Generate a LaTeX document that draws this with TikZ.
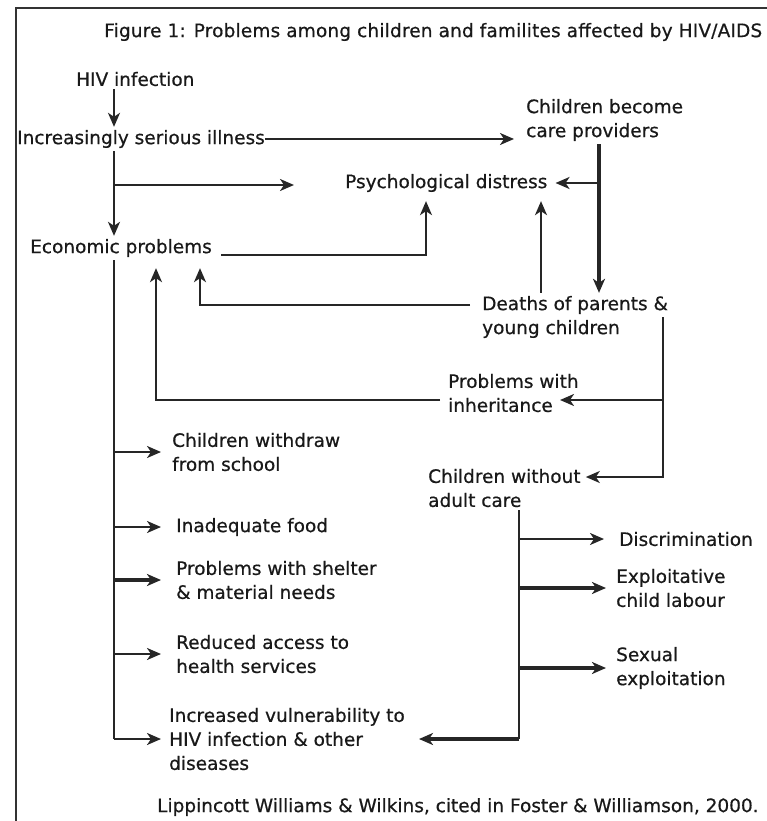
\documentclass[tikz,border=0pt]{standalone}
\usepackage{fontspec}
\setmainfont[FakeBold=0.6]{DejaVu Sans}
\usetikzlibrary{arrows.meta}
\tikzstyle{item} = [anchor=west, inner xsep=0pt, inner ysep=3pt, align=left, text=black!90, font=\fontsize{18.5}{24}\selectfont]
\tikzstyle{line} = [line width=2.2pt, draw=black!85]
\tikzstyle{link} = [line, -{Stealth[length=14pt, width=12pt, inset=4pt]}]
\tikzstyle{heavy} = [link, line width=3.6pt]
\tikzstyle{frame} = [line width=2.4pt, draw=black!80]

\begin{document}
\begin{tikzpicture}[x=1pt, y=-1pt]
    \useasboundingbox (0, 0) rectangle (767, 821);
    \draw [frame] (16, 821) |- (767, 8);

    \node (title) [item] at (104, 32) {\addfontfeature{LetterSpace=0.9}Figure 1: Problems among children and familites affected by HIV/AIDS};
    \node (hiv) [item] at (76, 79) {HIV infection};
    \node (illness) [item] at (17, 139) {Increasingly serious illness};
    \node (carers) [item] at (526, 120) {Children become\\care providers};
    \node (distress) [item] at (345, 183) {Psychological distress};
    \node (economic) [item] at (30, 248) {Economic problems};
    \node (deaths) [item] at (482, 317) {Deaths of parents \&\\young children};
    \node (inherit) [item] at (448, 393) {Problems with\\inheritance};
    \node (alone) [item] at (428, 488) {Children without\\adult care};
    \node (school) [item] at (172, 452) {Children withdraw\\from school};
    \node (food) [item] at (176, 527) {Inadequate food};
    \node (shelter) [item] at (176, 580) {Problems with shelter\\\& material needs};
    \node (health) [item] at (176, 654) {Reduced access to\\health services};
    \node (vulner) [item] at (169, 739) {Increased vulnerability to\\HIV infection \& other\\diseases};
    \node (discrim) [item] at (619, 539) {Discrimination};
    \node (labour) [item] at (616, 588) {Exploitative\\child labour};
    \node (sexual) [item] at (616, 668) {Sexual\\exploitation};
    \node (source) [item] at (157, 807) {Lippincott Williams \& Wilkins, cited in Foster \& Williamson, 2000.};

    % Junctions.
    \coordinate (spine) at (114, 0);
    \coordinate (stress in) at (294, 185);
    \coordinate (econ up) at (426, 0);
    \coordinate (care down) at (599, 0);
    \coordinate (death up) at (541, 0);
    \coordinate (death left) at (200, 0);
    \coordinate (orphan down) at (663, 0);
    \coordinate (inherit left) at (156, 0);
    \coordinate (inherit tip) at (560, 400);
    \coordinate (alone down) at (519, 0);

    % Arrows.
    \draw [link] (hiv.south -| spine) -- (illness.north -| spine);
    \draw [link, shorten >=12pt] (illness.east) -- (illness.east -| carers.west);
    \draw [link] (illness.south -| spine) -- (economic.north -| spine);
    \draw [link] (spine |- stress in) -- (stress in);
    \draw [link, shorten >=6pt] ([xshift=9pt, yshift=-7pt]economic.east) -| (distress.south -| econ up);
    \draw [heavy] (carers.south -| care down) -- (deaths.north -| care down);
    \draw [link, shorten >=8pt] (care down |- distress) -- (distress.east);
    \draw [link, shorten >=6pt] (deaths.north -| death up) -- (distress.south -| death up);
    \draw [link, shorten >=8pt] ([xshift=-12pt, yshift=12pt]deaths.west) -| (economic.south -| death left);
    \draw [link] (deaths.east -| orphan down) |- ([xshift=5pt, yshift=11pt]alone.east);
    \draw [link] (orphan down |- inherit tip) -- (inherit tip);
    \draw [link, shorten >=8pt] ([xshift=-8pt, yshift=-7pt]inherit.west) -| (economic.south -| inherit left);

    \draw [line] (economic.south -| spine) -- (spine |- vulner.west);
    \foreach \n/\s in {school/11, food/15, health/15, vulner/8} {%
        \draw [link, shorten >=\s pt] (spine |- \n.west) -- (\n.west);
    }
    \draw [heavy, shorten >=15pt] (spine |- shelter.west) -- (shelter.west);

    \draw [line] (alone.south -| alone down) -- (alone down |- vulner.east);
    \draw [link, shorten >=15pt] (alone down |- discrim.west) -- (discrim.west);
    \foreach \n in {labour, sexual} {%
        \draw [heavy, shorten >=10pt] (alone down |- \n.west) -- (\n.west);
    }
    \draw [heavy, shorten >=14pt] (alone down |- vulner.east) -- (vulner.east);
\end{tikzpicture}
\end{document}
